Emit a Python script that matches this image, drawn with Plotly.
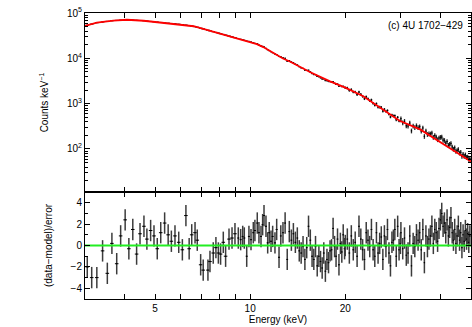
import plotly.graph_objects as go

# ---- data (energy in keV) ----
# model curve (red line), counts keV^-1
model_energy = [3.0, 3.27, 3.69, 4.07, 4.6, 5.25, 6.05, 6.62, 7.15, 8.3, 9.5, 10.0, 10.5, 11.0, 11.8,
                12.7, 13.4, 15.45, 17.9, 20.0, 22.8, 25.7, 27.7, 29.7, 34.5, 39.9, 45.0, 50.0]
model_counts = [52000, 61000, 68000, 71000, 67500, 61500, 56000, 51000, 44000, 33000, 25500, 23300,
                20600, 17700, 13200, 9900, 8400, 5000, 3110, 2250, 1460, 830, 590, 420, 270, 142, 85, 53]

# segment A: 3-9 keV
energy_a = [3.05, 3.15, 3.27, 3.41, 3.53, 3.65, 3.78, 3.89, 4.02, 4.13, 4.25, 4.37, 4.48, 4.61, 4.71,
            4.84, 4.96, 5.08, 5.21, 5.36, 5.50, 5.63, 5.78, 5.94, 6.10, 6.26, 6.41, 6.53, 6.69, 6.80,
            6.97, 7.10, 7.35, 7.46, 7.64, 7.79, 7.93, 8.06, 8.22, 8.36, 8.57, 8.76, 8.95]
counts_a = [53600, 56900, 61000, 63350, 65340, 67340, 68700, 69600, 70600, 70600, 69760, 68960, 68270,
            67410, 66370, 65110, 64020, 62950, 61860, 60660, 59640, 58730, 57720, 56700, 55530, 54050,
            52730, 51720, 49990, 48450, 46230, 44630, 41720, 40550, 38740, 37300, 36040, 34930, 33630,
            32550, 31030, 29770, 28580]
resid_a = [-2.0, -3.0, -3.0, -0.5, -2.6, 0.2, -1.7, 0.9, 2.4, -0.3, 1.5, -0.8, 1.1, 1.8, 0.6,
           1.4, 0.9, -0.3, 1.2, 2.1, 1.0, 0.4, 0.9, 0.3, -0.4, 2.8, -0.3, 1.0, 1.2, 0.5,
           -1.8, -2.3, -2.3, -1.5, -0.7, -0.2, -0.7, -0.8, 0.3, -1.0, 0.6, 0.7, 1.1]

# segment B: 9-12.4 keV
energy_b = [9.17, 9.33, 9.47, 9.58, 9.75, 9.91, 10.06, 10.23, 10.35, 10.53, 10.66, 10.82, 10.95,
            11.06, 11.22, 11.36, 11.49, 11.64, 11.78, 11.98, 12.13, 12.34]
counts_b = [27290, 26400, 25660, 25140, 24070, 23680, 22960, 22010, 21390, 20930, 19610, 18690, 18390,
            17890, 16620, 15470, 14760, 13970, 13290, 12440, 12060, 10940]
resid_b = [0.7, 0.55, 0.85, 0.7, -1.0, 0.85, 0.55, 1.2, 1.4, 2.1, 1.2, 0.85, 1.95,
           2.8, 1.8, 0.25, 1.2, 0.4, 0.85, 0.25, 1.5, -1.1]

# segment C: 12.5-20 keV
energy_c = [12.5, 12.7, 12.9, 13.1, 13.3, 13.5, 13.7, 13.9, 14.1, 14.3, 14.5, 14.7, 14.9, 15.1, 15.3,
            15.5, 15.7, 15.9, 16.1, 16.3, 16.5, 16.7, 16.9, 17.1, 17.3, 17.5, 17.7, 17.9, 18.1, 18.3,
            18.5, 18.7, 18.9, 19.1, 19.3, 19.5, 19.7, 19.9]
counts_c = [10830, 10260, 10030, 8650, 8935, 8300, 8006, 7428, 7135, 6540, 6180, 5984, 5493, 5412, 5470,
            5023, 4605, 4382, 4365, 3969, 3924, 3716, 3509, 3529, 3223, 3216, 3072, 3063, 2974, 3050,
            2812, 2658, 2698, 2431, 2515, 2376, 2421, 2269]
resid_c = [0.9, 1.2, 2.1, -1.3, 1.3, 0.5, 1.1, 0.3, 0.7, -0.5, -0.7, -0.1, -1.3, -0.2, 1.8,
           0.5, -1.0, -1.3, -0.1, -1.9, -1.0, -1.5, -2.1, -0.7, -2.4, -1.3, -1.6, -0.5, -0.4, 1.6,
           -0.1, -1.0, 0.6, -1.8, 0.2, -0.6, 1.0, -0.3]

# segment D: 20-30 keV
energy_d = [20.0, 20.3, 20.6, 20.9, 21.2, 21.5, 21.8, 22.1, 22.4, 22.7, 23.0, 23.3, 23.6, 23.9, 24.2,
            24.5, 24.8, 25.1, 25.4, 25.7, 26.0, 26.3, 26.6, 26.9, 27.2, 27.5, 27.8, 28.1, 28.4, 28.7,
            29.0, 29.3, 29.6, 29.9]
counts_d = [2250, 2226, 1947, 2059, 1808, 1807, 1583, 1808, 1608, 1443, 1283, 1422, 1281, 1162, 1211,
            1015, 920, 1001, 839, 841, 829, 685, 753, 672, 706, 584, 508, 561, 539, 544,
            440, 500, 415, 417]
resid_d = [0.0, 0.6, -0.7, 0.9, -0.4, 0.3, -1.0, 1.8, 0.6, -0.4, -1.3, 1.2, 0.5, -0.1, 1.5,
           -0.4, -1.0, 1.2, -0.7, 0.2, 0.8, -1.3, 0.9, -0.1, 1.5, -0.7, -1.9, 0.3, 0.5, 1.5,
           -1.0, 1.8, -0.4, 0.2]

# segment E: 30-50 keV
energy_e = [30.0, 30.4, 30.8, 31.2, 31.6, 32.0, 32.4, 32.8, 33.2, 33.6, 34.0, 34.4, 34.8, 35.2, 35.6,
            36.0, 36.4, 36.8, 37.2, 37.6, 38.0, 38.4, 38.8, 39.2, 39.6, 40.0, 40.4, 40.8, 41.2, 41.6,
            42.0, 42.4, 42.8, 43.2, 43.6, 44.0, 44.4, 44.8, 45.2, 45.6, 46.0, 46.4, 46.8, 47.2, 47.6,
            48.0, 48.4, 48.8, 49.2, 49.6]
counts_e = [467, 378, 409, 324, 321, 373, 251, 321, 298, 327, 299, 311, 248, 291, 190,
            248, 210, 218, 215, 225, 181, 199, 184, 161, 175, 181, 183, 157, 155, 136,
            147, 121, 127, 133, 111, 99.1, 106, 88.7, 92.3, 97.4, 81.6, 84.8, 69.6, 76.8, 69.3,
            74.4, 65.7, 66.9, 59.1, 60.9]
resid_e = [1.2, -0.3, 0.7, -0.9, -0.7, 0.9, -1.9, 0.2, -0.1, 1.0, 0.5, 1.2, -0.4, 1.5, -1.6,
           0.9, -0.1, 0.6, 0.9, 1.8, 0.2, 1.5, 1.2, 0.4, 1.6, 2.4, 3.0, 1.8, 2.1, 1.2,
           2.4, 0.9, 1.7, 2.6, 1.2, 0.5, 1.5, 0.2, 0.9, 1.8, 0.5, 1.2, -0.2, 1.0, 0.4,
           1.4, 0.6, 1.1, 0.3, 0.9]

# relative count error (%) and half bin width (%) per segment
seg_err_pct = [0.5, 1.2, 3.0, 6.5, 12.0]
bin_half_pct = [1.3, 0.75, 0.65, 0.6, 0.5]

x_tickvals = [4, 5, 6, 7, 8, 9, 10, 20, 30, 40]
x_ticktext = ['', '5', '', '', '', '', '10', '20', '', '']
y_tickvals = [100, 1000, 10000, 100000]
y_ticktext = ['10<sup>2</sup>', '10<sup>3</sup>', '10<sup>4</sup>', '10<sup>5</sup>']
# minor ticks on the log axis: 2..9 x 10^n
y_minor_vals = [m * 10 ** p for p in range(1, 5) for m in range(2, 10)]

segments = [
    (energy_a, counts_a, resid_a),
    (energy_b, counts_b, resid_b),
    (energy_c, counts_c, resid_c),
    (energy_d, counts_d, resid_d),
    (energy_e, counts_e, resid_e),
]

FONT = 'Liberation Sans, Arial, sans-serif'
fig = go.Figure()

# data points, top panel
for i, (en, cnt, res) in enumerate(segments):
    fig.add_trace(go.Scatter(
        x=en, y=cnt, mode='markers', xaxis='x', yaxis='y',
        marker=dict(size=1, color='black'),
        error_y=dict(type='percent', value=seg_err_pct[i], color='#2a2a2a', thickness=1.3, width=0),
        error_x=dict(type='percent', value=bin_half_pct[i], color='black', thickness=1, width=0),
        showlegend=False, hoverinfo='skip'
    ))

# model line
fig.add_trace(go.Scatter(
    x=model_energy, y=model_counts, mode='lines', xaxis='x', yaxis='y',
    line=dict(color='#ff0000', width=1.8), showlegend=False
))

# residuals, bottom panel
for i, (en, cnt, res) in enumerate(segments):
    fig.add_trace(go.Scatter(
        x=en, y=res, mode='markers', xaxis='x2', yaxis='y2',
        marker=dict(size=1, color='black'),
        error_y=dict(type='constant', value=1, color='#3c3c3c', thickness=1.5, width=0),
        error_x=dict(type='percent', value=bin_half_pct[i], color='black', thickness=1, width=0),
        showlegend=False, hoverinfo='skip'
    ))

# zero line
fig.add_trace(go.Scatter(
    x=[3, 50], y=[0, 0], mode='lines', xaxis='x2', yaxis='y2',
    line=dict(color='#22ee22', width=1.8), showlegend=False
))

axis_common = dict(showline=True, linecolor='black', linewidth=1, mirror='ticks',
                   ticks='inside', tickcolor='black', showgrid=False, zeroline=False,
                   tickfont=dict(size=10, color='black', family=FONT))
x_range = [0.4771, 1.699]

fig.update_layout(
    width=472, height=327,
    margin=dict(l=85, r=1, t=13, b=28),
    paper_bgcolor='white', plot_bgcolor='white',
    font=dict(family=FONT, size=10, color='black'),
    xaxis=dict(axis_common, type='log', range=x_range, anchor='y', matches='x2',
               tickvals=x_tickvals, ticktext=x_ticktext, showticklabels=False, ticklen=5),
    yaxis=dict(axis_common, type='log', range=[1.05, 5.0], domain=[0.374, 1], anchor='x',
               tickvals=y_tickvals, ticktext=y_ticktext, ticklen=5,
               minor=dict(ticks='inside', ticklen=3, tickcolor='black',
                          tickmode='array', tickvals=y_minor_vals),
               title=dict(text='Counts keV<sup>−1</sup>', font=dict(size=10), standoff=16)),
    xaxis2=dict(axis_common, type='log', range=x_range, anchor='y2',
                tickvals=x_tickvals, ticktext=x_ticktext, ticklen=5,
                title=dict(text='Energy (keV)', font=dict(size=10), standoff=2)),
    yaxis2=dict(axis_common, range=[-5, 5], domain=[0, 0.374], anchor='x2',
                tickvals=[-4, -2, 0, 2, 4], ticktext=['−4', '−2', '0', '2', '4'], ticklen=5,
                minor=dict(ticks='inside', ticklen=3, tickcolor='black',
                           tickmode='array', tickvals=[-5, -3, -1, 1, 3, 5]),
                title=dict(text='(data−model)/error', font=dict(size=10), standoff=16)),
)

fig.add_annotation(
    text='(c) 4U 1702−429', xref='paper', yref='paper', x=0.985, y=0.955,
    xanchor='right', yanchor='middle', showarrow=False,
    font=dict(size=10, color='black', family=FONT)
)

fig.write_html('out.html', config={'displayModeBar': False},
               post_script="document.body.style.margin='0';")
